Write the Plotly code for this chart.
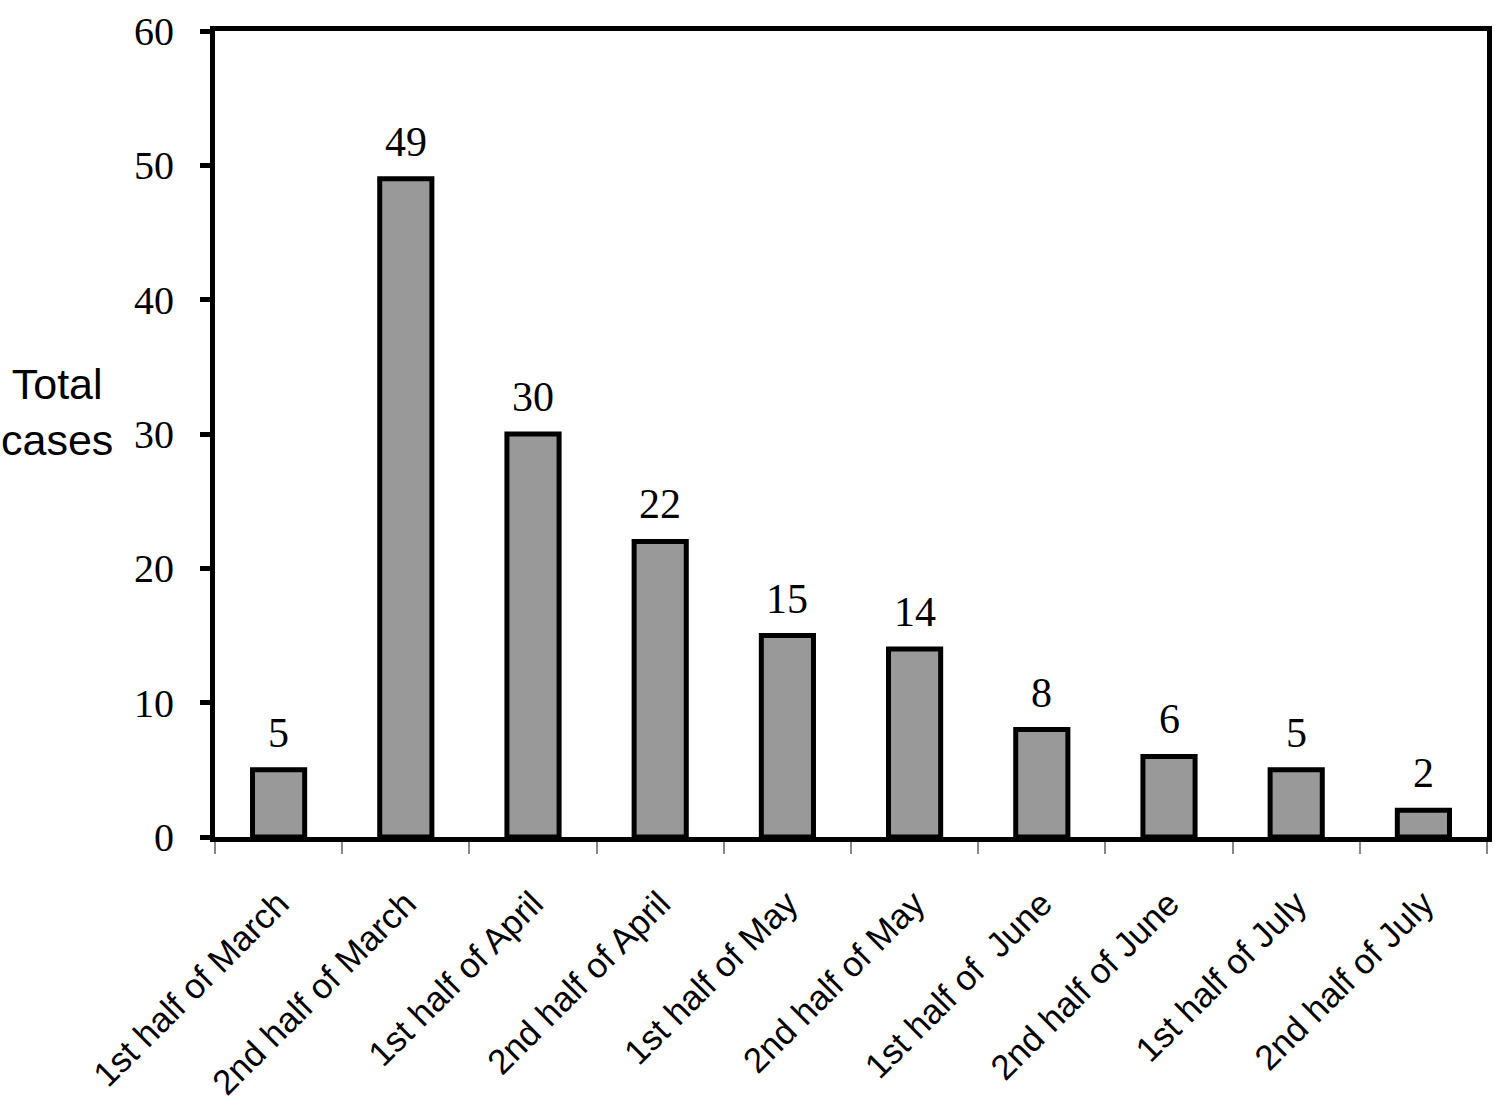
import plotly.graph_objects as go

categories = ["1st half of March", "2nd half of March", "1st half of April", "2nd half of April",
              "1st half of May", "2nd half of May", "1st half of  June", "2nd half of June",
              "1st half of July", "2nd half of July"]
values = [5, 49, 30, 22, 15, 14, 8, 6, 5, 2]
y_ticks = [0, 10, 20, 30, 40, 50, 60]

fig = go.Figure()
fig.add_trace(go.Bar(
    x=categories, y=values,
    marker=dict(color="#999999", line=dict(color="black", width=5)),
    width=0.41,
))

annotations = [dict(
    x=c, y=v, xref="x", yref="y", text=str(v), showarrow=False,
    xanchor="center", yanchor="bottom", yshift=12,
    font=dict(family="Times New Roman, Liberation Serif", size=42, color="black"),
) for c, v in zip(categories, values)]

annotations.append(dict(
    text="Total<br>cases", xref="paper", yref="paper", x=-0.124, y=0.527,
    xanchor="center", yanchor="middle", showarrow=False, align="center",
    font=dict(family="Arial, Liberation Sans", size=43, color="black"),
))

fig.update_layout(
    width=1499, height=1103,
    margin=dict(l=215, r=11.5, t=31, b=265.5, autoexpand=False),
    paper_bgcolor="white", plot_bgcolor="white",
    showlegend=False,
    xaxis=dict(
        type="category", automargin=False,
        showline=True, linecolor="black", linewidth=5, mirror=True,
        ticks="outside", tickson="boundaries", ticklen=12, tickcolor="#888888", tickwidth=2,
        tickangle=-45,
        tickfont=dict(family="Arial, Liberation Sans", size=35, color="black"),
        ticklabelstandoff=27, ticklabeloverflow="allow",
        showgrid=False,
    ),
    yaxis=dict(
        range=[0, 60], tickvals=y_ticks, automargin=False,
        showline=True, linecolor="black", linewidth=5, mirror=True,
        ticks="outside", ticklen=10, tickcolor="black", tickwidth=5,
        tickfont=dict(family="Times New Roman, Liberation Serif", size=40, color="black"),
        ticklabelstandoff=18, ticklabeloverflow="allow",
        showgrid=False, zeroline=False,
    ),
    annotations=annotations,
)

fig.write_html("out.html", config={"displayModeBar": False},
               post_script="document.body.style.margin='0';")
